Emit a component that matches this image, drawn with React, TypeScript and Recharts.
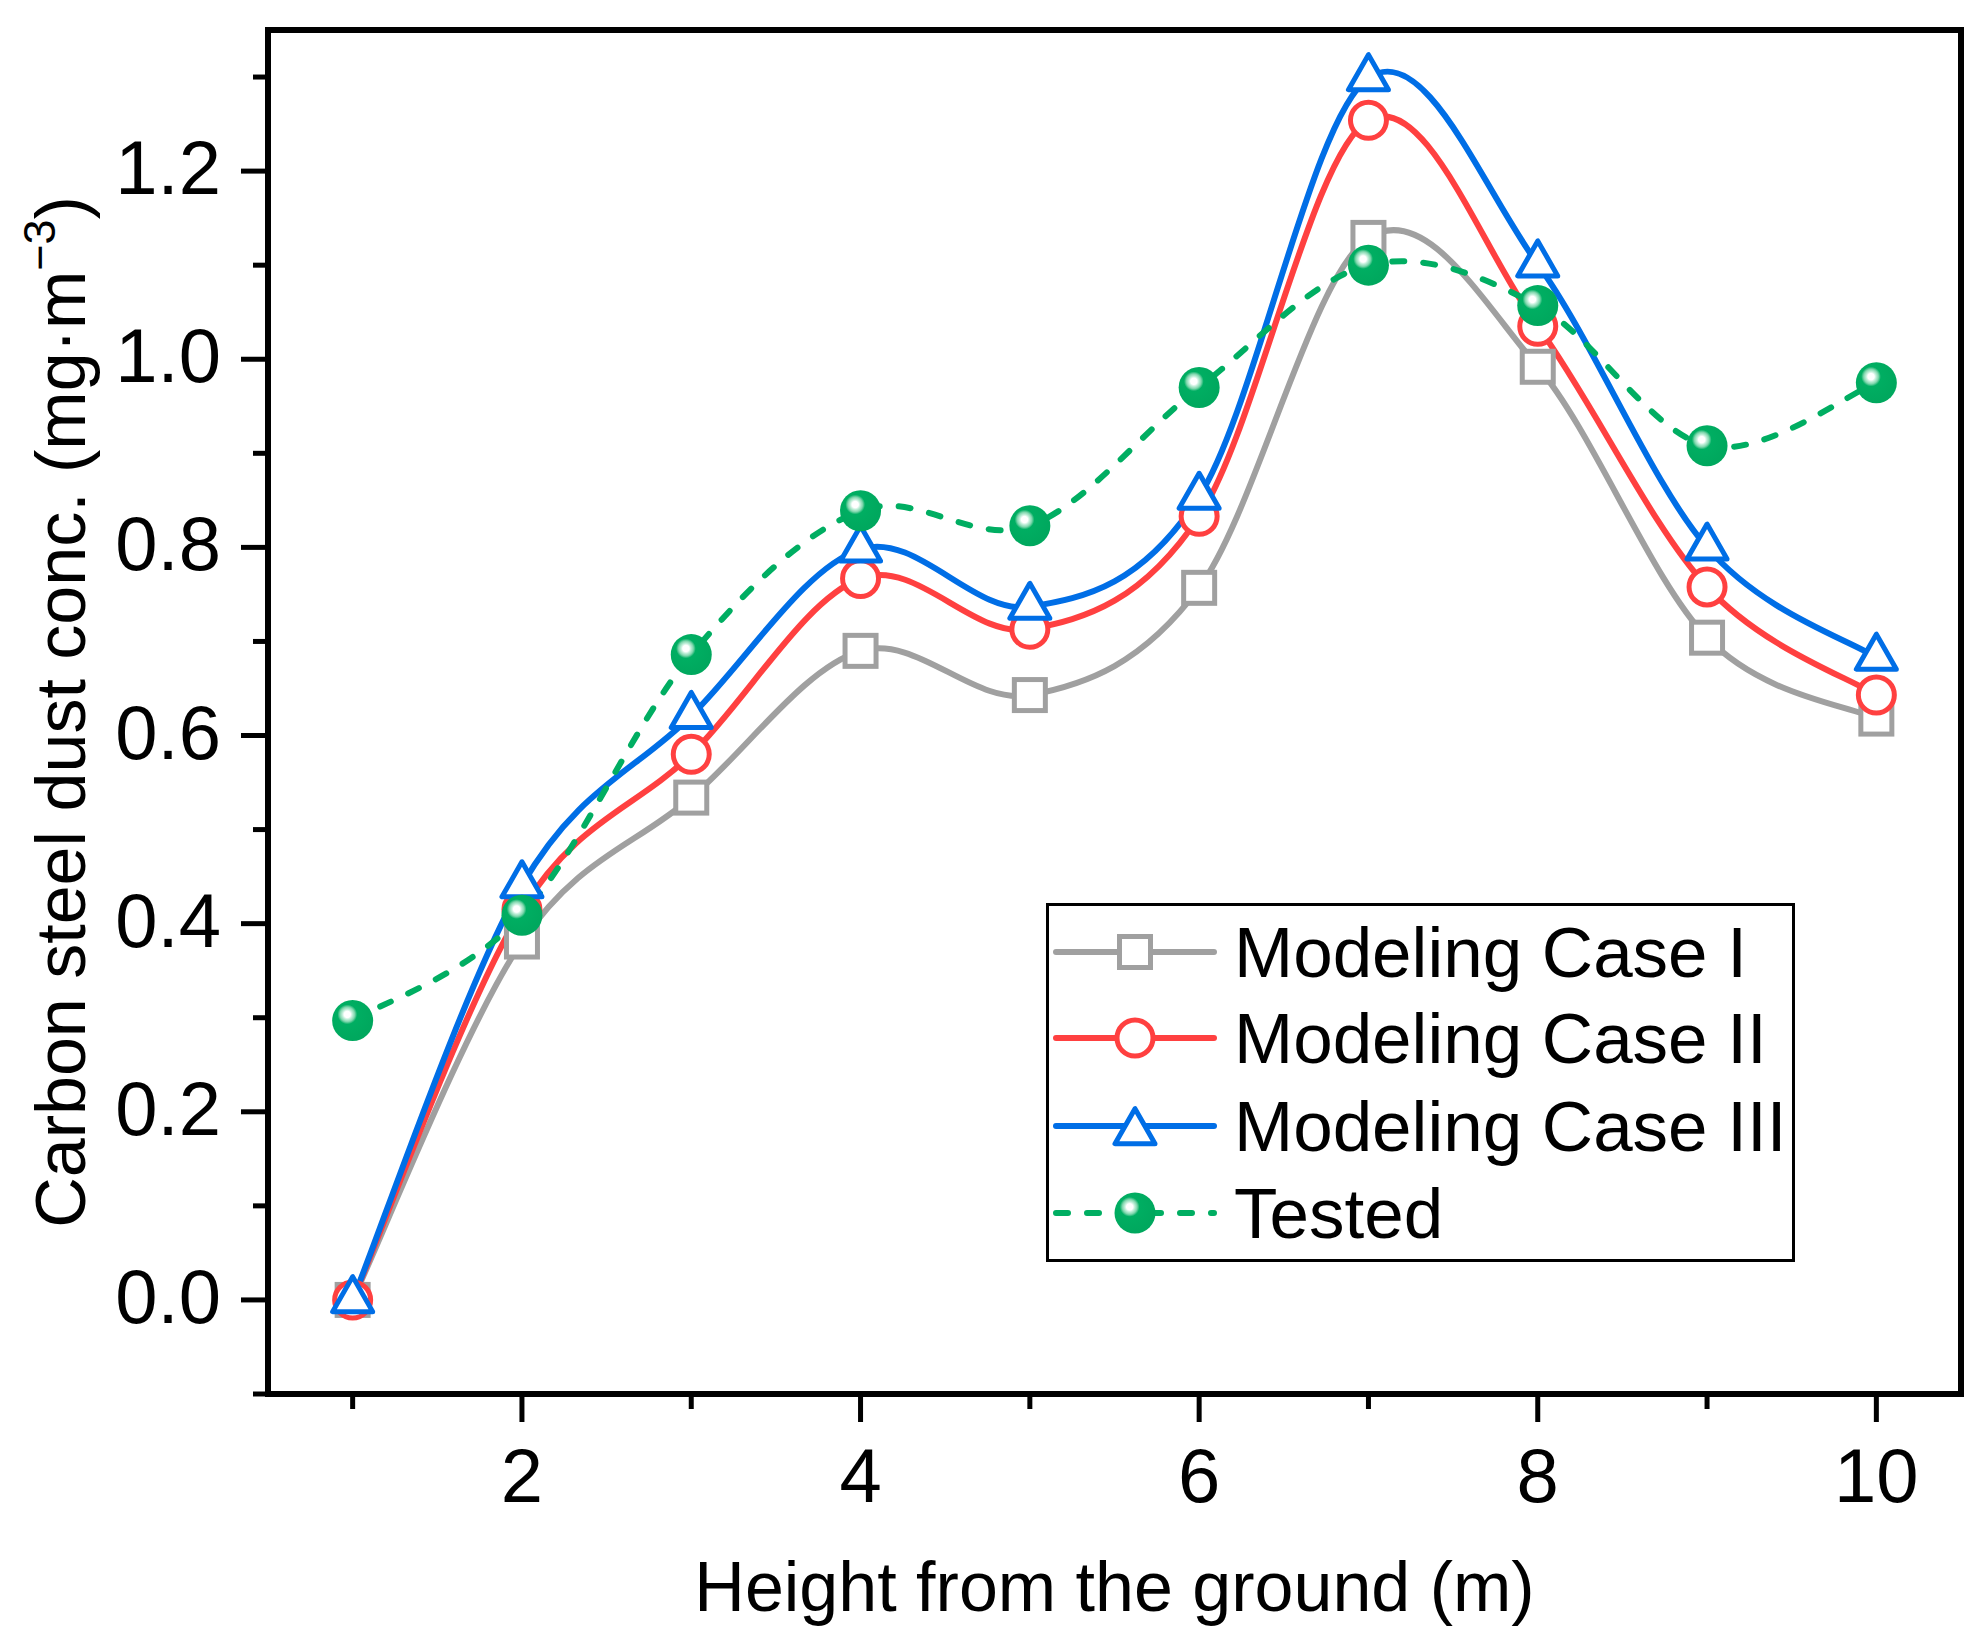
import React from 'react';
import { LineChart, Line, XAxis, YAxis, ReferenceArea, Legend, Label } from 'recharts';

const heights = [1, 2, 3, 4, 5, 6, 7, 8, 9, 10];
const caseI = [0, 0.381, 0.534, 0.69, 0.643, 0.757, 1.129, 0.992, 0.704, 0.618];
const caseII = [0, 0.415, 0.58, 0.767, 0.713, 0.833, 1.254, 1.035, 0.758, 0.643];
const caseIII = [0, 0.441, 0.621, 0.798, 0.737, 0.854, 1.299, 1.101, 0.8, 0.683];
const tested = [0.297, 0.409, 0.686, 0.839, 0.823, 0.97, 1.1, 1.057, 0.908, 0.975];

const xTicks = [1, 2, 3, 4, 5, 6, 7, 8, 9, 10];
const yTicks = [-0.1, 0, 0.1, 0.2, 0.3, 0.4, 0.5, 0.6, 0.7, 0.8, 0.9, 1.0, 1.1, 1.2, 1.3];
const seriesNames = ['Modeling Case I', 'Modeling Case II', 'Modeling Case III', 'Tested'];

const GRAY = '#A0A0A0';
const RED = '#FF4040';
const BLUE = '#006EE6';
const GREEN = '#00AE62';
const FONT = '"Liberation Sans", Arial, sans-serif';

const data = heights.map((h, i) => ({
  h,
  c1: caseI[i],
  c2: caseII[i],
  c3: caseIII[i],
  t: tested[i],
}));

// Catmull-Rom style spline (local cubic through every point), used as a curve factory
const splineCurve = (context: any) => {
  let xs: number[] = [];
  let ys: number[] = [];
  return {
    areaStart() {},
    areaEnd() {},
    lineStart() {
      xs = [];
      ys = [];
    },
    point(x: number, y: number) {
      xs.push(+x);
      ys.push(+y);
    },
    lineEnd() {
      const n = xs.length;
      if (!n) return;
      context.moveTo(xs[0], ys[0]);
      if (n === 1) return;
      for (let i = 0; i < n - 1; i++) {
        const i0 = Math.max(0, i - 1);
        const i3 = Math.min(n - 1, i + 2);
        const c1x = xs[i] + (xs[i + 1] - xs[i0]) / 6;
        const c1y = ys[i] + (ys[i + 1] - ys[i0]) / 6;
        const c2x = xs[i + 1] - (xs[i3] - xs[i]) / 6;
        const c2y = ys[i + 1] - (ys[i3] - ys[i]) / 6;
        context.bezierCurveTo(c1x, c1y, c2x, c2y, xs[i + 1], ys[i + 1]);
      }
    },
  };
};

const Square = ({ cx, cy }: { cx: number; cy: number }) => (
  <rect x={cx - 15.5} y={cy - 15.5} width={31} height={31} fill="#fff" stroke={GRAY} strokeWidth={5} />
);
const Circ = ({ cx, cy }: { cx: number; cy: number }) => (
  <circle cx={cx} cy={cy} r={18} fill="#fff" stroke={RED} strokeWidth={5} />
);
const Tri = ({ cx, cy }: { cx: number; cy: number }) => (
  <polygon
    points={`${cx},${cy - 23.3} ${cx - 20},${cy + 11.7} ${cx + 20},${cy + 11.7}`}
    fill="#fff"
    stroke={BLUE}
    strokeWidth={5}
    strokeLinejoin="round"
  />
);
const Sphere = ({ cx, cy, gid }: { cx: number; cy: number; gid: string }) => (
  <circle cx={cx} cy={cy} r={20.5} fill={`url(#${gid})`} />
);

const SphereGradient = ({ id }: { id: string }) => (
  <radialGradient id={id} cx="0.37" cy="0.35" r="0.6" fx="0.37" fy="0.35">
    <stop offset="0" stopColor="#ffffff" />
    <stop offset="0.13" stopColor="#ffffff" />
    <stop offset="0.2" stopColor="#c4efdb" />
    <stop offset="0.3" stopColor="#7fd6ad" />
    <stop offset="0.4" stopColor={GREEN} />
    <stop offset="1" stopColor="#00A85E" />
  </radialGradient>
);

const mkDot = (Comp: any, extra: any = {}) => (props: any) => {
  const { cx, cy, index } = props;
  if (cx == null || cy == null) return <g key={`n-${index}`} />;
  return <Comp key={`d-${index}`} cx={cx} cy={cy} {...extra} />;
};

const XTick = (props: any) => {
  const { x, y, payload } = props;
  const v = payload.value;
  const major = v % 2 === 0;
  return (
    <g>
      <line x1={x} x2={x} y1={y} y2={y + (major ? 28 : 15)} stroke="#000" strokeWidth={5} />
      {major && (
        <text x={x} y={y + 108} textAnchor="middle" fontSize={76} fontFamily={FONT} fill="#000">
          {v}
        </text>
      )}
    </g>
  );
};

const YTick = (props: any) => {
  const { x, y, payload } = props;
  const v = payload.value;
  const k = Math.round(v * 10);
  const major = k % 2 === 0 && k >= 0;
  return (
    <g>
      <line x1={x - (major ? 27 : 15)} x2={x} y1={y} y2={y} stroke="#000" strokeWidth={5} />
      {major && (
        <text x={x - 47} y={y + 23} textAnchor="end" fontSize={76} fontFamily={FONT} fill="#000">
          {v.toFixed(1)}
        </text>
      )}
    </g>
  );
};

const LegendBox = () => {
  const rows = [49, 135, 223, 310];
  const mx = 89;
  return (
    <svg width={749} height={359} style={{ display: 'block' }}>
      <defs>
        <SphereGradient id="sphLegend" />
      </defs>
      <rect x={1.5} y={1.5} width={746} height={356} fill="#fff" stroke="#000" strokeWidth={3} />
      <line x1={10} x2={168} y1={rows[0]} y2={rows[0]} stroke={GRAY} strokeWidth={6} strokeLinecap="round" />
      <Square cx={mx} cy={rows[0]} />
      <line x1={10} x2={168} y1={rows[1]} y2={rows[1]} stroke={RED} strokeWidth={6} strokeLinecap="round" />
      <Circ cx={mx} cy={rows[1]} />
      <line x1={10} x2={168} y1={rows[2]} y2={rows[2]} stroke={BLUE} strokeWidth={6} strokeLinecap="round" />
      <Tri cx={mx} cy={rows[2] + 6} />
      <line
        x1={10}
        x2={168}
        y1={rows[3]}
        y2={rows[3]}
        stroke={GREEN}
        strokeWidth={6}
        strokeLinecap="round"
        strokeDasharray="12 19"
      />
      <Sphere cx={mx} cy={rows[3]} gid="sphLegend" />
      {seriesNames.map((n, i) => (
        <text key={n} x={188} y={rows[i] + 25} fontSize={71} fontFamily={FONT} fill="#000">
          {n}
        </text>
      ))}
    </svg>
  );
};

export default function App() {
  return (
    <div style={{ width: 1986, height: 1647, background: '#fff' }}>
      <style>{'body{margin:0;overflow:hidden;background:#fff}'}</style>
      <LineChart width={1986} height={1647} data={data} margin={{ top: 30, right: 25, bottom: 53, left: 0 }}>
        <defs>
          <SphereGradient id="sphChart" />
        </defs>
        <XAxis
          dataKey="h"
          type="number"
          domain={[0.5, 10.5]}
          ticks={xTicks}
          allowDataOverflow
          height={200}
          axisLine={false}
          tickLine={false}
          tickSize={0}
          tickMargin={0}
          interval={0}
          tick={<XTick />}
        >
          <Label
            content={(p: any) => {
              const vb = p.viewBox;
              return (
                <text
                  x={vb.x + vb.width / 2}
                  y={vb.y + 217}
                  textAnchor="middle"
                  fontSize={70}
                  fontFamily={FONT}
                  fill="#000"
                >
                  Height from the ground (m)
                </text>
              );
            }}
          />
        </XAxis>
        <YAxis
          type="number"
          domain={[-0.1, 1.35]}
          ticks={yTicks}
          allowDataOverflow
          width={268}
          axisLine={false}
          tickLine={false}
          tickSize={0}
          tickMargin={0}
          interval={0}
          tick={<YTick />}
        >
          <Label
            content={(p: any) => {
              const vb = p.viewBox;
              const cx = 85;
              const cy = vb.y + vb.height / 2;
              return (
                <text
                  x={cx}
                  y={cy}
                  transform={`rotate(-90, ${cx}, ${cy})`}
                  textAnchor="middle"
                  fontSize={70}
                  fontFamily={FONT}
                  fill="#000"
                >
                  <tspan>Carbon steel dust conc. (mg·m</tspan>
                  <tspan dy={-30} fontSize={45}>−3</tspan>
                  <tspan dy={30}>)</tspan>
                </text>
              );
            }}
          />
        </YAxis>
        <ReferenceArea x1={0.5} x2={10.5} y1={-0.1} y2={1.35} fill="none" stroke="#000" strokeWidth={6} ifOverflow="visible" />
        <Line
          type={splineCurve as any}
          dataKey="c1"
          name={seriesNames[0]}
          stroke={GRAY}
          strokeWidth={6}
          dot={mkDot(Square)}
          activeDot={false}
          isAnimationActive={false}
        />
        <Line
          type={splineCurve as any}
          dataKey="c2"
          name={seriesNames[1]}
          stroke={RED}
          strokeWidth={6}
          dot={mkDot(Circ)}
          activeDot={false}
          isAnimationActive={false}
        />
        <Line
          type={splineCurve as any}
          dataKey="c3"
          name={seriesNames[2]}
          stroke={BLUE}
          strokeWidth={6}
          dot={mkDot(Tri)}
          activeDot={false}
          isAnimationActive={false}
        />
        <Line
          type={splineCurve as any}
          dataKey="t"
          name={seriesNames[3]}
          stroke={GREEN}
          strokeWidth={6}
          strokeLinecap="round"
          strokeDasharray="12 19"
          dot={mkDot(Sphere, { gid: 'sphChart' })}
          activeDot={false}
          isAnimationActive={false}
        />
        <Legend
          layout="vertical"
          verticalAlign="middle"
          align="center"
          wrapperStyle={{ position: 'absolute', left: 1046, top: 903, width: 749, height: 359 }}
          content={() => <LegendBox />}
        />
      </LineChart>
    </div>
  );
}
